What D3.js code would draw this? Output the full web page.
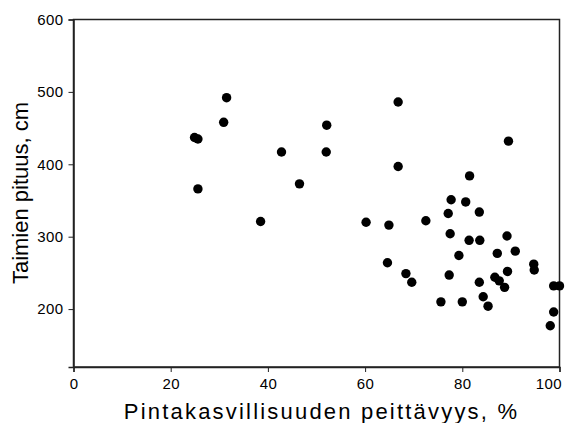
<!DOCTYPE html>
<html><head>
<meta charset="utf-8">
<script src="https://d3js.org/d3.v7.min.js"></script>
<style>
  body { margin: 0; background: #fff; }
  .tick text { font-family: "Liberation Sans", Arial, sans-serif; font-size: 15px; letter-spacing: 0.4px; fill: #000; }
  .axis-title { font-family: "Liberation Sans", Arial, sans-serif; font-size: 22px; fill: #000; }
</style>
</head>
<body>
<svg id="chart" width="570" height="423"></svg>
<script>
// cover % (x) and seedling height cm (y)
const cover = [24.9, 25.6, 31.5, 30.9, 25.6, 42.8, 46.5, 38.5, 52.1, 52.0,
               66.8, 66.8, 89.5, 81.5, 77.7, 80.7, 77.1, 83.5, 60.2, 64.9,
               72.5, 77.5, 81.4, 83.6, 89.2, 79.3, 87.2, 90.9, 94.7, 94.8,
               64.6, 68.4, 69.6, 77.3, 83.5, 86.7, 87.6, 89.3, 88.7, 84.3,
               75.6, 80.0, 85.3, 98.8, 100, 98.8, 98.1];
const seedlingHeight = [437, 435, 492, 458, 366, 417, 373, 321, 454, 417,
                486, 397, 432, 384, 351, 348, 332, 334, 320, 316,
                322, 304, 295, 295, 301, 274, 277, 280, 262, 254,
                264, 249, 237, 247, 237, 244, 239, 252, 230, 217,
                210, 210, 204, 232, 232, 196, 177];
const xTicks = [0, 20, 40, 60, 80, 100];
const yTicks = [200, 300, 400, 500, 600];

const svg = d3.select("#chart");
const m = { left: 73.5, right: 559.5, top: 19.5, bottom: 367 };

const x = d3.scaleLinear().domain([0, 100]).range([m.left, m.right]);
const y = d3.scaleLinear().domain([120, 600]).range([m.bottom, m.top]);

// frame
svg.append("rect")
   .attr("x", m.left).attr("y", m.top)
   .attr("width", m.right - m.left).attr("height", m.bottom - m.top)
   .attr("fill", "none").attr("stroke", "#222").attr("stroke-width", 1.5);

const xAxis = svg.append("g")
   .attr("transform", "translate(0," + m.bottom + ")")
   .call(d3.axisBottom(x).tickValues(xTicks).tickSize(5).tickPadding(6));
const yAxis = svg.append("g")
   .attr("transform", "translate(" + m.left + ",0)")
   .call(d3.axisLeft(y).tickValues(yTicks).tickSize(5).tickPadding(5));
[xAxis, yAxis].forEach(g => {
  g.select(".domain").attr("stroke", "#222").attr("stroke-width", 1.5);
  g.selectAll(".tick line").attr("stroke", "#222");
});
// last x label pulled inside the picture, like the original
xAxis.selectAll(".tick text").filter(d => d === 100)
     .attr("text-anchor", "end").attr("x", 2);

const pts = cover.map((c, i) => [c, seedlingHeight[i]]);
svg.selectAll("circle.pt").data(pts)
   .join("circle")
   .attr("class", "pt")
   .attr("cx", d => x(d[0]))
   .attr("cy", d => y(d[1]))
   .attr("r", 4.7)
   .attr("fill", "#000");

svg.append("text").attr("class", "axis-title")
   .attr("x", 321.5).attr("y", 419)
   .attr("text-anchor", "middle")
   .style("letter-spacing", "2.2px")
   .text("Pintakasvillisuuden peittävyys, %");
svg.append("text").attr("class", "axis-title")
   .attr("transform", "translate(28,193) rotate(-90)")
   .attr("text-anchor", "middle")
   .text("Taimien pituus, cm");
</script>
</body>
</html>
